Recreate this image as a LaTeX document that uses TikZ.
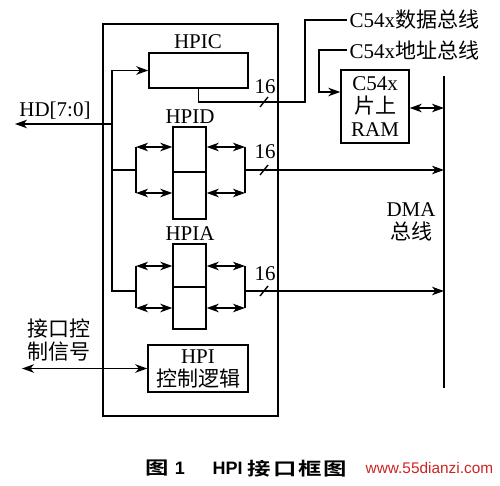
\documentclass[tikz,border=0pt]{standalone}
\usepackage{fontspec}
\setmainfont{Liberation Serif}
\newfontfamily\cjk{Noto Sans CJK SC}
\newfontfamily\cjkb{Noto Sans CJK SC Bold}[FakeStretch=1.3]
\newfontfamily\capsans{Liberation Sans}
\usetikzlibrary{arrows.meta}
\definecolor{wmred}{RGB}{205,35,35}
\begin{document}
\begin{tikzpicture}[x=1pt,y=-1pt,
  line width=1.4pt,
  >={Stealth[length=12pt,width=8.5pt,inset=3.5pt]},
  box/.style={draw, line width=1.4pt, inner sep=0pt},
  txt/.style={font=\fontsize{21}{23}\selectfont, inner sep=0pt, align=center},
  captxt/.style={inner sep=0pt, font=\fontsize{18}{20}\selectfont},
]
\useasboundingbox (0,0) rectangle (500,486);
% boxes
\node[box, minimum width=175pt, minimum height=392pt] (outer) at (190.5,220) {};
\node[box, minimum width=99pt, minimum height=35pt] (hpic) at (198.5,70.5) {};
\node[box, minimum width=33pt, minimum height=45pt] (hpidU) at (189.5,149.5) {};
\node[box, minimum width=33pt, minimum height=47pt] (hpidL) at (189.5,195.5) {};
\node[box, minimum width=33pt, minimum height=43pt] (hpiaU) at (189.5,265.5) {};
\node[box, minimum width=33pt, minimum height=42pt] (hpiaL) at (189.5,308) {};
\node[box, txt, minimum width=68pt, minimum height=73pt] (ram) at (375,106.5) {C54x\\{\cjk 片上}\\RAM};
\node[box, txt, minimum width=100pt, minimum height=47pt] (ctrl) at (198,368.5) {HPI\\{\cjk 控制逻辑}};
% labels
\node[txt] (lhpic) at (198,42) {HPIC};
\node[txt] (lhpid) at (190,117) {HPID};
\node[txt] (lhpia) at (190,234) {HPIA};
\node[txt] (lhd) at (55,111) {HD[7:0]};
\node[txt] (n1) at (265,87) {16};
\node[txt] (n2) at (265,152) {16};
\node[txt] (n3) at (265,274) {16};
\node[txt, anchor=west, inner xsep=2pt] (dtxt) at (347,20) {C54x{\cjk 数据总线}};
\node[txt, anchor=west, inner xsep=2pt] (atxt) at (347,50) {C54x{\cjk 地址总线}};
\node[txt] (ldma) at (411,222) {DMA\\{\cjk 总线}};
\node[txt] (lcs) at (59,340) {{\cjk 接口控}\\{\cjk 制信号}};
% coordinates
\coordinate (bT) at (112,70.5);
\coordinate (bHD) at (112,124);
\coordinate (hdEnd) at (15,124);
\coordinate (bD) at (112,170);
\coordinate (bB) at (112,291);
\coordinate (dLt) at (136,147);
\coordinate (dLb) at (136,193);
\coordinate (dLm) at (136,170);
\coordinate (dRt) at (245,147);
\coordinate (dRb) at (245,193);
\coordinate (dRm) at (245,170);
\coordinate (aLt) at (136,266);
\coordinate (aLb) at (136,308);
\coordinate (aLm) at (136,291);
\coordinate (aRt) at (245,266);
\coordinate (aRb) at (245,308);
\coordinate (aRm) at (245,291);
\coordinate (dmaT) at (444,76);
\coordinate (dmaB) at (444,388);
\coordinate (cD) at (305,102);
\coordinate (aC) at (319,92);
\coordinate (r1) at (444,108);
\coordinate (cs) at (22,368.5);
% left bus
\draw[->] (bT) -- (hpic.west);
\draw (bT) -- (bB) -- (aLm);
\draw (bD) -- (dLm);
\draw[->] (bHD) -- (hdEnd);
% HPID
\draw (dLt) -- (dLb);
\draw[<->] (dLt) -- (dLt -| hpidU.west);
\draw[<->] (dLb) -- (dLb -| hpidL.west);
\draw[<->] (dRt -| hpidU.east) -- (dRt);
\draw[<->] (dRb -| hpidL.east) -- (dRb);
\draw (dRt) -- (dRb);
\draw[->] (dRm) -- (dRm -| dmaT);
% HPIA
\draw (aLt) -- (aLb);
\draw[<->] (aLt) -- (aLt -| hpiaU.west);
\draw[<->] (aLb) -- (aLb -| hpiaL.west);
\draw[<->] (aRt -| hpiaU.east) -- (aRt);
\draw[<->] (aRb -| hpiaL.east) -- (aRb);
\draw (aRt) -- (aRb);
\draw[->] (aRm) -- (aRm -| dmaT);
% DMA bus
\draw (dmaT) -- (dmaB);
% HPIC out / data bus
\draw (hpic.south) |- (cD) -- (cD |- dtxt.west) -- (dtxt.west);
% address bus
\draw[->] (atxt.west) -| (aC) -- (aC -| ram.west);
% RAM to DMA
\draw[<->] (r1 -| ram.east) -- (r1);
% control signals
\draw[<->] (cs) -- (ctrl.west);
% bus width slashes
\draw (260,107) -- (268,97);
\draw (260,175) -- (268,165);
\draw (260,296) -- (268,286);
% caption
\node[captxt] (cap1) at (157.5,468.5) {\cjkb 图};
\node[captxt] (cap2) at (180,468.5) {\capsans\bfseries 1};
\node[captxt, anchor=west] (cap3) at (212,468.5) {\capsans\bfseries HPI};
\node[captxt, anchor=west] (cap4) at (247,468.5) {\cjkb 接\hspace{2pt}口\hspace{2pt}框\hspace{2pt}图};
\node[inner sep=0pt, anchor=west, text=wmred, font=\capsans\fontsize{15.4}{17}\selectfont] (wm) at (365,468) {www.55dianzi.com};
\end{tikzpicture}
\end{document}
